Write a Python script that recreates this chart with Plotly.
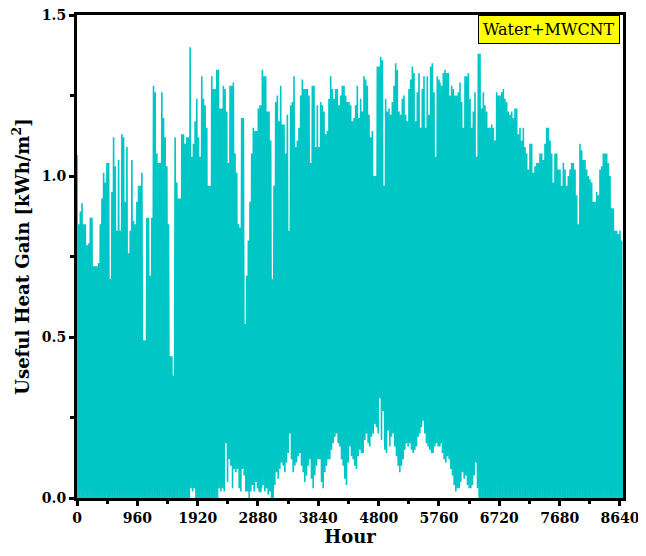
import numpy as np
import plotly.graph_objects as go

# Daily peak / night-side low useful heat gain (kWh/m2) in three stretches
peak_a = [1.065, 0.85, 0.89, 0.915, 0.85, 0.85, 0.785, 0.79, 0.87, 0.87,
          0.72, 0.72, 0.72, 0.73, 0.85, 0.93, 1.01, 0.98, 1.04, 1.04,
          0.68, 0.95, 1.12, 1.03, 0.83, 1.05, 0.83, 1.13, 1.12, 0.92,
          1.09, 0.76, 0.83, 1.05, 0.86, 0.85, 0.92, 0.97, 0.97, 1.01,
          0.49, 0.49, 0.87, 0.87, 0.69, 0.87, 1.28, 1.26, 1.07, 1.04,
          1.04, 1.26, 1.18, 1.12, 1.03, 0.85, 0.44, 0.44, 0.38, 1.12,
          0.98, 0.93, 0.93, 1.13, 1.13, 1.10, 1.12, 1.12, 1.40, 1.06,
          1.10, 1.17, 1.24, 1.12, 1.06, 1.31, 1.24, 1.22, 1.15, 0.97,
          0.97, 1.31, 1.27, 1.27, 1.33, 1.33, 1.21, 1.21, 1.28, 1.27,
          1.20, 1.04, 1.28, 1.28, 1.29, 1.07, 1.01, 0.85, 0.84, 1.18,
          1.18, 0.54, 0.69, 0.80, 0.92, 1.07, 1.15, 1.14, 1.14, 1.21,
          1.22]
low_a = [0, 0, 0, 0, 0, 0, 0, 0, 0, 0,
         0, 0, 0, 0, 0, 0, 0, 0, 0, 0,
         0, 0, 0, 0, 0, 0, 0, 0, 0, 0,
         0, 0, 0, 0, 0, 0, 0, 0, 0, 0,
         0, 0, 0, 0, 0, 0, 0, 0, 0, 0,
         0, 0, 0, 0, 0, 0, 0, 0, 0, 0,
         0, 0, 0, 0, 0, 0, 0, 0, 0, 0.03,
         0.02, 0.03, 0, 0, 0, 0, 0, 0, 0, 0,
         0, 0, 0, 0, 0, 0, 0.03, 0.02, 0.03, 0.02,
         0.17, 0.05, 0.12, 0.10, 0.03, 0.09, 0.08, 0.09, 0.03, 0.02,
         0.09, 0.07, 0.02, 0.02, 0.0, 0.02, 0.04, 0.02, 0.05, 0.03,
         0.02]

peak_b = [1.22, 1.33, 1.31, 1.31, 1.20, 1.20, 1.11, 0.68, 0.97, 1.23,
          1.25, 1.17, 1.28, 1.16, 1.16, 1.07, 1.19, 0.83, 1.22, 1.23,
          1.31, 1.09, 1.11, 1.15, 1.25, 1.30, 1.27, 1.27, 1.27, 1.25,
          1.04, 1.28, 1.28, 1.09, 1.22, 1.09, 1.23, 1.22, 1.20, 1.13,
          1.14, 1.24, 1.31, 1.27, 1.24, 1.27, 1.27, 1.22, 1.25, 1.28,
          1.28, 1.25, 1.23, 1.23, 1.22, 1.17, 1.18, 1.22, 1.28, 1.18,
          1.24, 1.20, 1.31, 1.30, 1.28, 1.19, 1.12, 1.14, 1.00, 1.00,
          1.34, 1.34, 1.37, 1.36, 0.97, 1.24, 1.20, 1.21, 1.19, 1.23,
          1.28, 1.35, 1.33, 1.20, 1.19, 1.24, 1.25, 1.19, 1.17, 1.27,
          1.30, 1.34, 1.32, 1.17, 1.26, 1.32, 1.15, 1.27, 1.31, 1.15,
          1.31, 1.19, 1.34, 1.35, 1.26, 1.06, 1.31, 1.30]
low_b = [0.02, 0.03, 0.04, 0.02, 0.03, 0.01, 0.02, 0.00, 0.00, 0.04,
         0.08, 0.06, 0.09, 0.11, 0.10, 0.08, 0.11, 0.14, 0.20, 0.12,
         0.08, 0.10, 0.11, 0.13, 0.14, 0.10, 0.08, 0.05, 0.07, 0.10,
         0.12, 0.06, 0.03, 0.07, 0.10, 0.12, 0.12, 0.05, 0.03, 0.08,
         0.10, 0.12, 0.12, 0.15, 0.17, 0.19, 0.20, 0.17, 0.16, 0.12,
         0.10, 0.06, 0.04, 0.11, 0.16, 0.13, 0.12, 0.10, 0.09, 0.13,
         0.15, 0.14, 0.14, 0.18, 0.20, 0.17, 0.16, 0.19, 0.20, 0.23,
         0.22, 0.20, 0.31, 0.18, 0.27, 0.15, 0.14, 0.21, 0.16, 0.19,
         0.20, 0.16, 0.13, 0.10, 0.08, 0.10, 0.12, 0.15, 0.17, 0.16,
         0.17, 0.15, 0.14, 0.15, 0.16, 0.19, 0.20, 0.22, 0.24, 0.20,
         0.17, 0.16, 0.15, 0.14, 0.14, 0.16, 0.17, 0.16]

peak_c = [1.29, 1.28, 1.32, 1.33, 1.32, 1.32, 1.25, 1.28, 1.27, 1.25,
          1.25, 1.26, 1.29, 1.23, 1.15, 1.31, 1.31, 1.32, 1.24, 1.15,
          1.20, 1.26, 1.06, 1.38, 1.38, 1.21, 1.26, 1.22, 1.20, 1.15,
          1.15, 1.16, 1.15, 1.11, 1.26, 1.25, 1.25, 1.26, 1.27, 1.24,
          1.23, 1.20, 1.19, 1.20, 1.18, 1.21, 1.21, 1.13, 1.15, 1.11,
          1.15, 1.09, 1.07, 1.02, 1.10, 1.10, 1.01, 1.03, 1.04, 1.04,
          1.07, 1.07, 1.05, 1.10, 1.15, 1.15, 1.11, 1.07, 0.98, 1.07,
          1.07, 1.02, 1.02, 0.97, 1.04, 1.02, 0.97, 1.00, 1.02, 1.04,
          1.04, 1.02, 0.94, 0.85, 1.10, 1.08, 1.05, 1.05, 1.02, 1.00,
          0.99, 0.98, 0.92, 0.92, 0.95, 0.94, 1.02, 1.03, 1.07, 1.07,
          1.07, 1.04, 1.00, 0.90, 0.90, 0.83, 0.83, 0.82, 0.83, 0.80]
low_c = [0.20, 0.17, 0.14, 0.12, 0.11, 0.13, 0.12, 0.09, 0.07, 0.04,
         0.02, 0.03, 0.03, 0.05, 0.08, 0.06, 0.07, 0.04, 0.03, 0.03,
         0.04, 0.07, 0.11, 0.03, 0, 0, 0, 0, 0, 0,
         0, 0, 0, 0, 0, 0, 0, 0, 0, 0,
         0, 0, 0, 0, 0, 0, 0, 0, 0, 0,
         0, 0, 0, 0, 0, 0, 0, 0, 0, 0,
         0, 0, 0, 0, 0, 0, 0, 0, 0, 0,
         0, 0, 0, 0, 0, 0, 0, 0, 0, 0,
         0, 0, 0, 0, 0, 0, 0, 0, 0, 0,
         0, 0, 0, 0, 0, 0, 0, 0, 0, 0,
         0, 0, 0, 0, 0, 0, 0, 0, 0, 0]

# hour span covered by each stretch of readings
span_a = (0, 2912)
span_b = (2923, 5760)
span_c = (5776, 8667)

x_ticks = [0, 960, 1920, 2880, 3840, 4800, 5760, 6720, 7680, 8640]
y_ticks = [0.0, 0.5, 1.0, 1.5]
x_max = 8688
y_max = 1.5

CYAN = "rgb(0,198,198)"


def cycles(peaks, lows, span):
    n = len(peaks)
    assert len(lows) == n
    hrs = np.linspace(span[0], span[1], n)
    step = (span[1] - span[0]) / (n - 1)
    xs, ys = [], []
    for h, p, lo in zip(hrs, peaks, lows):
        xs += [h - step / 2, h]
        ys += [lo, p]
    xs.append(hrs[-1] + step / 2)
    ys.append(lows[-1])
    return xs, ys


X, Y = [], []
for pk, lw, sp in [(peak_a, low_a, span_a), (peak_b, low_b, span_b), (peak_c, low_c, span_c)]:
    xs, ys = cycles(pk, lw, sp)
    X += xs
    Y += ys

fig = go.Figure()
fig.add_trace(go.Scatter(x=X, y=Y, mode="lines",
                         line=dict(color=CYAN, width=1.6), hoverinfo="skip"))

tickfont = dict(family="DejaVu Serif", size=14, color="black", weight="bold")
titlefont = dict(family="DejaVu Serif", size=18, color="black", weight="bold")

# the page body adds an 8px offset, so the figure is sized 638x548
fig.update_layout(
    width=638, height=548,
    margin=dict(l=69, r=23, t=7, b=58, autoexpand=False),
    plot_bgcolor="white", paper_bgcolor="white",
    showlegend=False,
    font=dict(family="DejaVu Serif", color="black"),
    xaxis=dict(
        range=[0, x_max], tickvals=x_ticks, ticktext=[str(v) for v in x_ticks],
        ticks="outside", ticklen=5, tickwidth=2.5, tickcolor="black",
        showline=True, linewidth=3, linecolor="black", mirror=True,
        showgrid=False, zeroline=False, tickfont=tickfont, automargin=False,
        ticklabeloverflow="allow",
        minor=dict(ticks="outside", dtick=480, tick0=0, ticklen=3,
                   tickwidth=2.5, tickcolor="black", showgrid=False),
        title=dict(text="Hour", font=titlefont, standoff=4),
    ),
    yaxis=dict(
        range=[0, y_max], tickvals=y_ticks, ticktext=[f"{v:.1f}" for v in y_ticks],
        ticks="outside", ticklen=5, tickwidth=2.5, tickcolor="black",
        showline=True, linewidth=3, linecolor="black", mirror=True,
        showgrid=False, zeroline=False, tickfont=tickfont, automargin=False,
        ticklabeloverflow="allow",
        minor=dict(ticks="outside", dtick=0.25, tick0=0, ticklen=4,
                   tickwidth=2.5, tickcolor="black", showgrid=False),
        title=dict(text="Useful Heat Gain [kWh/m<sup>2</sup>]", font=titlefont, standoff=8),
    ),
)

fig.add_annotation(
    xref="x domain", yref="y domain", x=0.995, y=1.0,
    xanchor="right", yanchor="top", showarrow=False,
    text="Water+MWCNT", font=dict(family="DejaVu Serif", size=16, color="black"),
    bgcolor="yellow", bordercolor="black", borderwidth=1, borderpad=4,
)

fig.write_html("out.html")
